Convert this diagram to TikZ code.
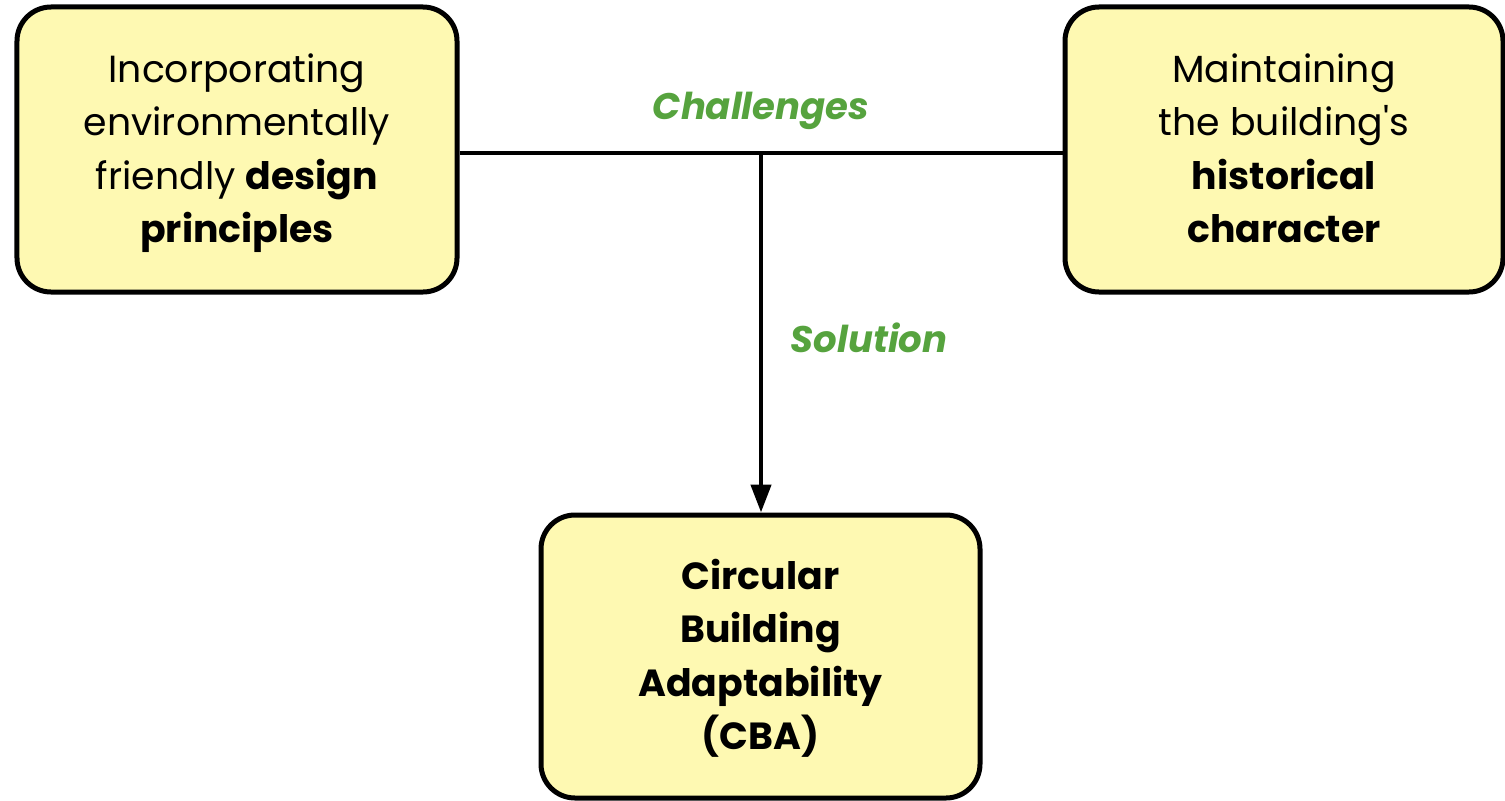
\documentclass[tikz,border=0pt]{standalone}
\usepackage{fontspec}
\setmainfont[Ligatures=TeXOff]{Poppins}
\usetikzlibrary{arrows.meta}
\definecolor{boxfill}{HTML}{FEF9B2}
\definecolor{labelgreen}{HTML}{56A33E}
% struts that keep every card's block of lines centred on its cap heights
\newcommand{\topstrut}{\rule{0pt}{38bp}}
\newcommand{\botstrut}{\rule[-12bp]{0pt}{12bp}}
\begin{document}
\begin{tikzpicture}[x=1bp,y=-1bp,
  card/.style={draw=black, line width=5bp, fill=boxfill, rounded corners=34bp,
    minimum width=#1, align=center, inner sep=0pt,
    font=\fontsize{37.8bp}{53.5bp}\selectfont},
  card/.default={440bp},
  wire/.style={line width=4.5bp},
  tag/.style={text=labelgreen, font=\fontsize{37bp}{42bp}\selectfont\bfseries\itshape}]
\useasboundingbox (0,0) rectangle (1505,800);

\node[card, minimum height=285bp] (design) at (237,149.5)
  {\topstrut Incorporating\\environmentally\\friendly \textbf{design}\\\textbf{principles}\botstrut};
\node[card=438bp, minimum height=285bp] (heritage) at (1284,149.5)
  {\topstrut Maintaining\\the building's\\\textbf{historical}\\\textbf{character}\botstrut};
\node[card=439bp, minimum height=283bp] (cba) at (760.5,656.5)
  {\topstrut\textbf{Circular}\\\textbf{Building}\\\textbf{Adaptability}\\\textbf{(CBA)}\botstrut};

\coordinate (junction) at (761,153);
\draw[wire] (design.east |- junction) -- (heritage.west |- junction);
\draw[wire, -{Triangle[length=28bp,width=20bp]}] (junction) -- (cba.north -| junction);

\node[tag] (challenges) at (761,111) {Challenges};
\node[tag] (solution) at (869,338) {Solution};
\end{tikzpicture}
\end{document}
